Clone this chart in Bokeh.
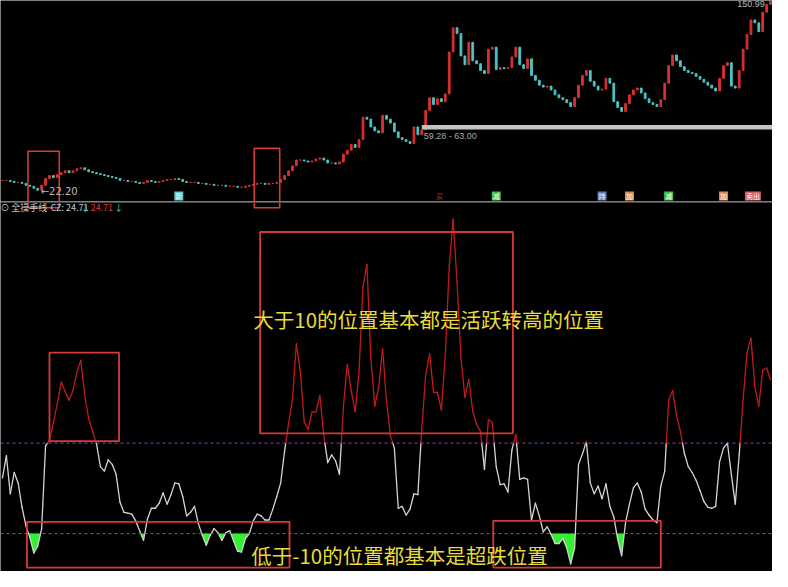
from bokeh.plotting import figure
from bokeh.layouts import column
from bokeh.models import Range1d, Span, Label
from bokeh.embed import file_html
from bokeh.resources import INLINE
from bokeh.core.properties import value

# ---------------- data ----------------
close = [28.81, 28.81, 28.14, 27.48, 27.48, 26.82, 25.50, 24.84, 23.52, 22.20,
         25.50, 30.13, 32.11, 30.79, 32.77, 34.09, 35.41, 34.09, 35.41, 36.73,
         37.39, 36.07, 34.75, 34.09, 33.43, 32.77, 32.11, 31.45, 30.79, 30.13,
         28.81, 28.81, 28.14, 28.14, 27.48, 26.82, 27.48, 28.81, 28.14, 27.48,
         28.14, 28.81, 29.47, 29.47, 30.13, 29.47, 28.14, 27.48, 27.48, 27.48,
         26.82, 26.82, 26.16, 26.16, 25.50, 25.50, 25.50, 24.84, 24.84, 24.84,
         24.18, 24.18, 24.84, 25.50, 26.16, 26.82, 26.82, 26.16, 26.82, 26.82,
         27.48, 29.47, 32.11, 35.41, 38.71, 42.68, 42.68, 42.02, 41.35, 42.02,
         43.34, 44.00, 42.68, 40.69, 40.69, 40.03, 41.35, 46.64, 49.28, 53.24,
         51.26, 56.55, 71.74, 70.42, 65.13, 62.49, 61.17, 73.06, 70.42, 67.77,
         61.83, 57.87, 56.55, 55.23, 53.90, 65.13, 59.85, 63.15, 76.36, 84.95,
         80.32, 84.29, 82.31, 87.59, 115.99, 132.50, 128.54, 113.35, 107.40, 122.60,
         110.05, 108.07, 103.44, 101.46, 117.97, 119.29, 104.10, 105.42, 104.76, 105.42,
         112.69, 119.29, 107.40, 104.76, 111.37, 100.14, 96.84, 93.53, 92.21, 92.87,
         90.23, 86.93, 84.95, 83.63, 81.65, 79.00, 84.95, 93.53, 100.14, 103.44,
         96.18, 92.87, 90.23, 90.89, 98.16, 94.86, 82.31, 78.34, 75.70, 80.98,
         86.93, 90.23, 91.55, 88.25, 84.29, 81.65, 80.32, 79.00, 83.63, 94.86,
         106.74, 114.01, 110.05, 106.08, 103.44, 102.12, 101.46, 99.48, 97.50, 95.52,
         93.53, 91.55, 89.57, 98.16, 106.74, 108.73, 92.87, 91.55, 103.44, 117.97,
         127.88, 137.79, 135.81, 129.86, 143.07, 148.36, 150.34]

cz = [2.3, 7.2, -1.2, 3.5, 1.2, -4.2, -8.3, -10.9, -14.3, -12.8,
      -8.9, 9.4, 10.6, 14.5, 18.8, 23.5, 21.4, 19.5, 21.6, 25.7,
      28.3, 20.5, 15.4, 12.6, 9.8, 4.8, 3.8, 6.3, 5.3, 3.1,
      -3.1, -5.3, -5.5, -5.7, -7.2, -9.4, -11.5, -6.8, -4.4, -4.4,
      -3.3, -1.0, -3.5, -1.4, 1.2, 1.0, -1.8, -6.1, -5.3, -4.0,
      -7.8, -10.4, -12.6, -10.4, -8.9, -9.8, -11.5, -9.8, -9.4, -11.7,
      -13.9, -14.1, -11.1, -10.0, -7.2, -5.7, -6.1, -7.0, -7.0, -4.6,
      -1.8, 1.2, 8.3, 14.3, 19.7, 32.0, 25.9, 14.7, 13.0, 16.9,
      16.9, 20.5, 11.7, 5.7, 7.4, 6.1, 3.1, 18.0, 27.4, 21.6,
      16.9, 25.9, 44.6, 49.5, 28.9, 18.2, 22.3, 30.9, 19.2, 11.7,
      8.9, -4.4, -4.0, -5.9, -4.6, -1.2, -1.4, 13.2, 25.1, 29.8,
      21.2, 21.2, 17.3, 29.4, 48.9, 59.5, 45.5, 28.9, 20.1, 24.0,
      17.1, 14.1, 12.6, 4.2, 15.2, 14.5, 4.8, 0.8, 1.0, -0.8,
      8.5, 11.9, 2.0, 2.3, 2.0, -7.0, -3.3, -6.1, -9.6, -8.5,
      -10.2, -12.2, -12.2, -11.1, -13.2, -16.7, -13.2, 5.3, 7.6, 10.4,
      1.2, -1.2, 0.5, -2.3, 1.0, -4.0, -6.3, -11.3, -14.9, -7.6,
      -3.5, 0.1, 1.2, -0.8, -4.6, -5.9, -7.0, -7.6, 0.5, 3.8,
      19.5, 21.6, 16.2, 12.6, 7.8, 4.8, 3.5, 1.8, -0.5, -2.9,
      -4.2, -4.4, -4.0, 5.9, 8.9, 10.0, 3.1, -3.5, 7.4, 19.7,
      30.0, 33.2, 22.5, 18.2, 26.1, 26.6, 24.0]

upper_level = 10
lower_level = -10

sig_bar = [45, 126, 153, 160, 170, 184, 191.5]
sig_text = ["新", "减", "持", "加", "减", "加", "卖出"]
sig_color = ["#5ec4c4", "#3fbf4a", "#5a7cc0", "#dd8a4e", "#3fbf4a", "#dd8a4e", "#cf6068"]
buy_bar = 111.5

low_label = "←22.20"
high_label = "150.99"
zone_label = "59.28 - 63.00"
header_parts = ["⊙", "全操手线", "CZ: 24.71", "↓", "24.71", "↓"]

text_hi = "大于10的位置基本都是活跃转高的位置"
text_lo = "低于-10的位置都基本是超跌位置"

# ---------------- layout helpers (reference pixels -> data) ----------------
W, H1, H2 = 772, 201, 370
S = (H1 + H2) / 587.0
SPLIT = H1 / S          # reference y where the two panels meet
N = len(close)


def bx(xr):
    return (xr - 2) / 4.0


def pt(yr):
    return 22.2 + (195 - yr) * 0.6605


def iv(yr):
    return upper_level + (455 - yr) / 4.65


CJK = "Noto Sans CJK SC"
RED_BOX = "#d83838"
YELLOW = "#e8dc3c"

xr = Range1d(bx(0), bx(788))

# ---------------- top panel: candles ----------------
p1 = figure(width=W, height=H1, x_range=xr, y_range=Range1d(pt(SPLIT), pt(0)),
            output_backend="svg", toolbar_location=None, min_border=0,
            background_fill_color="black", border_fill_color="black",
            outline_line_color=None)
p1.axis.visible = False
p1.grid.visible = False

idx = list(range(N))
opens = [close[0]] + close[:-1]
tops = [max(o, c) for o, c in zip(opens, close)]
bots = [min(o, c) for o, c in zip(opens, close)]
cols = ["#d83030" if c >= o else "#4cc4c4" for o, c in zip(opens, close)]
p1.vbar(x=idx, width=0.45, top=tops, bottom=bots, fill_color=cols, line_color=cols, line_width=1)

# zone bar
p1.quad(left=[bx(430)], right=[bx(792)], top=[pt(128)], bottom=[pt(132.5)],
        fill_color="#c4c4c4", line_color=None)
p1.add_layout(Label(x=bx(432), y=pt(139), text=zone_label, text_font="Liberation Sans",
                    text_font_size="9px", text_color="#a8a8a8", text_baseline="middle"))
p1.add_layout(Label(x=bx(41), y=pt(196), text=low_label, text_font="DejaVu Sans",
                    text_font_size="10px", text_color="#b8b8b8", text_baseline="middle"))
p1.add_layout(Label(x=bx(752), y=pt(0.5), text=high_label, text_font="Liberation Sans",
                    text_font_size="9px", text_color="#b8b8b8", text_baseline="top"))

# red boxes (top, upper part)
p1.quad(left=[bx(28), bx(259)], right=[bx(60), bx(285)], top=[pt(155), pt(152)],
        bottom=[pt(240), pt(240)], fill_color=None, line_color=RED_BOX, line_width=1.6)

# signals
p1.rect(x=sig_bar, y=pt(201), width=[9 if len(t) == 1 else 16 for t in sig_text], height=9,
        width_units="screen", height_units="screen", fill_color=sig_color, line_color=None)
p1.text(x=sig_bar, y=pt(201), text=sig_text, text_font=value(CJK), text_font_size="7px",
        text_color="white", text_align="center", text_baseline="middle")
p1.text(x=[buy_bar], y=[pt(201)], text=["买"], text_font=value(CJK), text_font_size="7px",
        text_color="#d02020", text_align="center", text_baseline="middle")

# ---------------- bottom panel: indicator ----------------
p2 = figure(width=W, height=H2, x_range=xr, y_range=Range1d(iv(587), iv(SPLIT)),
            output_backend="svg", toolbar_location=None, min_border=0,
            background_fill_color="black", border_fill_color="black",
            outline_line_color=None)
p2.axis.visible = False
p2.grid.visible = False

# separator and lower part of the top boxes
p2.add_layout(Span(location=iv(207.6), dimension="width", line_color="#4a4a4a", line_width=1))
p2.quad(left=[bx(28), bx(259)], right=[bx(60), bx(285)], top=[iv(150), iv(150)],
        bottom=[iv(213), iv(213)], fill_color=None, line_color=RED_BOX, line_width=1.6)

# header
header_x = [0, 11, 51, 82, 92, 116]
header_c = ["#c8c8c8", "#c8c8c8", "#c8c8c8", "#4fd0d0", "#e03232", "#4fd0d0"]
for xx, tt, cc in zip(header_x, header_parts, header_c):
    p2.add_layout(Label(x=bx(xx), y=iv(212.5), text=tt, text_font=CJK, text_font_size="9px",
                        text_color=cc, text_baseline="middle"))

# green fill below -10
fx, fy = [], []
for i in range(N):
    if i > 0:
        a, b = cz[i - 1], cz[i]
        if (a < lower_level) != (b < lower_level):
            t = (lower_level - a) / (b - a)
            fx.append(i - 1 + t)
            fy.append(lower_level)
    fx.append(i)
    fy.append(cz[i])
p2.varea(x=fx, y1=[min(v, lower_level) for v in fy], y2=[lower_level] * len(fy),
         fill_color="#33f033")

p2.add_layout(Span(location=upper_level, dimension="width", line_color="#9a3cc0",
                   line_dash="3 3", line_width=1))
p2.add_layout(Span(location=lower_level, dimension="width", line_color="#2f9a2f",
                   line_dash="3 3", line_width=1))

# indicator line, red above 10
x0, y0, x1, y1, sc = [], [], [], [], []
RED, WHITE = "#c21a1a", "#d4d4d4"


def add(a0, b0, a1, b1, c):
    x0.append(a0); y0.append(b0); x1.append(a1); y1.append(b1); sc.append(c)


for i in range(N - 1):
    a, b = cz[i], cz[i + 1]
    if (a > upper_level) == (b > upper_level):
        add(i, a, i + 1, b, RED if a > upper_level else WHITE)
    else:
        t = (upper_level - a) / (b - a)
        add(i, a, i + t, upper_level, RED if a > upper_level else WHITE)
        add(i + t, upper_level, i + 1, b, RED if b > upper_level else WHITE)
p2.segment(x0=x0, y0=y0, x1=x1, y1=y1, line_color=sc, line_width=1.3, line_cap="round")

# red boxes (bottom)
p2.quad(left=[bx(50), bx(265), bx(27), bx(503)],
        right=[bx(121), bx(523), bx(295), bx(674)],
        top=[iv(362), iv(238), iv(536), iv(535)],
        bottom=[iv(453), iv(445), iv(583), iv(583)],
        fill_color=None, line_color=RED_BOX, line_width=1.8)

p2.add_layout(Label(x=bx(258), y=iv(327), text=text_hi, text_font=CJK, text_font_size="20.5px",
                    text_color=YELLOW, text_baseline="middle"))
p2.add_layout(Label(x=bx(256), y=iv(570), text=text_lo, text_font=CJK, text_font_size="20.5px",
                    text_color=YELLOW, text_baseline="middle"))

layout = column(p1, p2, spacing=0)
open("out.html", "w").write(file_html(layout, INLINE))
